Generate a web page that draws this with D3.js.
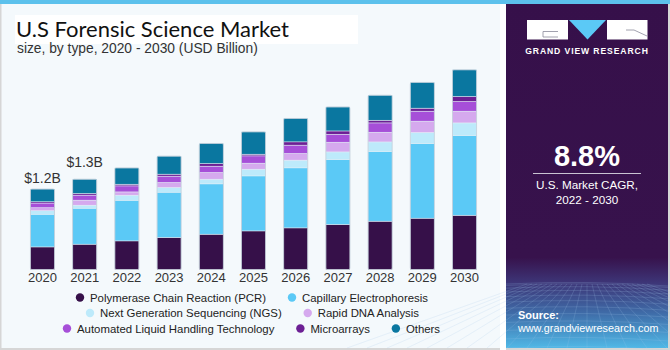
<!DOCTYPE html>
<html lang="en">
  <head>
    <meta charset="UTF-8" />
    <title>U.S Forensic Science Market</title>
    <script src="https://d3js.org/d3.v7.min.js"></script>
    <style>
      body { margin: 0; background: #fff; }
      text { font-family: "Liberation Sans", Arial, sans-serif; }
    </style>
  </head>
  <body>
    <script>
      let width = 670, height = 350;

      // data (USD billion)
      const years = ["2020","2021","2022","2023","2024","2025","2026","2027","2028","2029","2030"];
      const pcr       = [0.337,0.378,0.427,0.478,0.527,0.576,0.621,0.672,0.721,0.766,0.810];
      const capillary = [0.488,0.537,0.607,0.676,0.751,0.821,0.896,0.970,1.040,1.115,1.190];
      const ngs       = [0.052,0.045,0.075,0.070,0.070,0.100,0.115,0.113,0.143,0.164,0.188];
      const rapidDna  = [0.045,0.075,0.049,0.075,0.100,0.090,0.100,0.145,0.145,0.169,0.175];
      const automated = [0.070,0.075,0.090,0.094,0.094,0.109,0.124,0.119,0.139,0.149,0.145];
      const microarr  = [0.019,0.025,0.025,0.030,0.040,0.025,0.049,0.049,0.040,0.045,0.075];
      const others    = [0.190,0.213,0.243,0.269,0.299,0.333,0.349,0.358,0.373,0.384,0.397];

      const seriesNames = ["Polymerase Chain Reaction (PCR)","Capillary Electrophoresis",
        "Next Generation Sequencing (NGS)","Rapid DNA Analysis",
        "Automated Liquid Handling Technology","Microarrays","Others"];
      const seriesColors = ["#361049","#5bc9f6","#bdeafb","#d5a9ee","#a64fd8","#6c1f94","#0a77a0"];
      const valueLabels = [{year:"2020", text:"$1.2B", gap:6}, {year:"2021", text:"$1.3B", gap:12}];

      const cagr = "8.8%";

      const svg = d3.select("body").append("svg")
        .attr("width", width).attr("height", height);

      // backgrounds
      svg.append("rect").attr("width", width).attr("height", height).attr("fill", "#f4f9fc");
      svg.append("rect").attr("x", 0).attr("y", 0).attr("width", 1.5).attr("height", height).attr("fill", "#d6d6d6");
      svg.append("rect").attr("x", 0).attr("y", height - 2).attr("width", width).attr("height", 2).attr("fill", "#d6d6d6");
      svg.append("rect").attr("x", width - 2).attr("y", 0).attr("width", 2).attr("height", height).attr("fill", "#d6d6d6");
      svg.append("rect").attr("x", 500).attr("y", 0).attr("width", 6).attr("height", height).attr("fill", "#ffffff");

      // right panel
      const defs = svg.append("defs");
      const grad = defs.append("linearGradient").attr("id", "pg").attr("x1", 0).attr("y1", 0).attr("x2", 0).attr("y2", 1);
      grad.append("stop").attr("offset", "0%").attr("stop-color", "#36104a");
      grad.append("stop").attr("offset", "74%").attr("stop-color", "#37124c");
      grad.append("stop").attr("offset", "81%").attr("stop-color", "#3d3476");
      grad.append("stop").attr("offset", "90%").attr("stop-color", "#3f6ca8");
      grad.append("stop").attr("offset", "100%").attr("stop-color", "#50b8e6");
      svg.append("rect").attr("x", 506).attr("y", 0).attr("width", 162).attr("height", 348).attr("fill", "url(#pg)");

      // faint perspective grid at the bottom of the panel
      const grid = svg.append("g").attr("stroke", "#9fc6ec").attr("stroke-opacity", 0.28).attr("stroke-width", 0.7).attr("fill", "none");
      d3.range(0, 12).forEach(function (i) {
        const yy = 284 + Math.pow(i / 11, 1.6) * 64;
        grid.append("path").attr("d", "M506," + yy + " Q587," + (yy - 4) + " 668," + (yy + 2));
      });
      d3.range(-12, 13).forEach(function (i) {
        grid.append("line").attr("x1", 587 + i * 5).attr("y1", 284).attr("x2", 587 + i * 20).attr("y2", 348);
      });

      svg.append("rect").attr("x", 0).attr("y", 0).attr("width", width).attr("height", 4).attr("fill", "#5cc1ec");

      // logo
      const logo = svg.append("g");
      logo.append("rect").attr("x", 527).attr("y", 20).attr("width", 41).attr("height", 19.5).attr("fill", "#fff");
      logo.append("path").attr("d", "M543,31.5 H558 M543,31.5 V37 H558").attr("stroke", "#8a8a9a").attr("stroke-width", 0.8).attr("fill", "none");
      logo.append("path").attr("d", "M569,20 L606,20 L587.5,39.5 Z").attr("fill", "#5bc9f6");
      logo.append("rect").attr("x", 607).attr("y", 20).attr("width", 40.5).attr("height", 19.5).attr("fill", "#fff");
      logo.append("path").attr("d", "M634,30 L647,36 M634,30 H626").attr("stroke", "#8a8a9a").attr("stroke-width", 0.8).attr("fill", "none");
      svg.append("text").attr("x", 587).attr("y", 53.5).attr("text-anchor", "middle")
        .attr("fill", "#fff").style("font-size", "8.6px").style("font-weight", "bold").style("letter-spacing", "0.9px")
        .text("GRAND VIEW RESEARCH");

      svg.append("text").attr("x", 587).attr("y", 165.5).attr("text-anchor", "middle")
        .attr("fill", "#fff").style("font-size", "29px").style("font-weight", "bold").text(cagr);
      svg.append("line").attr("x1", 533).attr("x2", 641).attr("y1", 173.5).attr("y2", 173.5)
        .attr("stroke", "#c9c3d2").attr("stroke-width", 1);
      svg.append("text").attr("x", 587).attr("y", 189).attr("text-anchor", "middle")
        .attr("fill", "#fff").style("font-size", "11.7px").text("U.S. Market CAGR,");
      svg.append("text").attr("x", 587).attr("y", 204).attr("text-anchor", "middle")
        .attr("fill", "#fff").style("font-size", "11.7px").text("2022 - 2030");
      svg.append("text").attr("x", 518).attr("y", 318.5)
        .attr("fill", "#fff").style("font-size", "11px").style("font-weight", "bold").text("Source:");
      svg.append("text").attr("x", 518).attr("y", 331.5)
        .attr("fill", "#fff").style("font-size", "10.8px").text("www.grandviewresearch.com");

      // title
      svg.append("rect").attr("x", 15).attr("y", 15).attr("width", 343).attr("height", 29).attr("fill", "#fff");
      svg.append("text").attr("x", 16).attr("y", 37).attr("fill", "#111")
        .style("font-family", "Lato, sans-serif").style("font-size", "22px").text("U.S Forensic Science Market");
      svg.append("text").attr("x", 17).attr("y", 53).attr("fill", "#333")
        .style("font-size", "13.8px").text("size, by type, 2020 - 2030 (USD Billion)");

      // stacked bars
      const table = years.map(function (yr, i) {
        return { year: yr, s0: pcr[i], s1: capillary[i], s2: ngs[i], s3: rapidDna[i], s4: automated[i], s5: microarr[i], s6: others[i] };
      });
      const keys = ["s0","s1","s2","s3","s4","s5","s6"];
      const stack = d3.stack().keys(keys)(table);

      const x = d3.scaleBand().domain(years).range([22, 485]).paddingInner(0.43).paddingOuter(0.2);
      const y = d3.scaleLinear().domain([0, 3]).range([269.5, 68.5]);

      const layers = svg.selectAll(".layer").data(stack).enter().append("g")
        .attr("class", "layer").attr("fill", function (d, i) { return seriesColors[i]; });

      layers.selectAll("rect").data(function (d) { return d; }).enter().append("rect")
        .attr("x", function (d) { return x(d.data.year); })
        .attr("width", x.bandwidth())
        .attr("y", function (d) { return y(d[1]); })
        .attr("height", function (d) { return y(d[0]) - y(d[1]); })
        .attr("stroke", "#e3eef6").attr("stroke-width", 0.5);

      // bar outline
      svg.selectAll(".outline").data(table).enter().append("rect")
        .attr("x", function (d) { return x(d.year); })
        .attr("width", x.bandwidth())
        .attr("y", function (d) { return y(d3.sum(keys, function (k) { return d[k]; })); })
        .attr("height", function (d) { return y(0) - y(d3.sum(keys, function (k) { return d[k]; })); })
        .attr("rx", 1.5).attr("fill", "none").attr("stroke", "#b8c4d0").attr("stroke-width", 0.6);

      // x axis labels
      const xAxis = svg.append("g").attr("transform", "translate(0,270)")
        .call(d3.axisBottom(x).tickSize(0).tickPadding(3));
      xAxis.select(".domain").remove();
      xAxis.selectAll("text").attr("fill", "#333").style("font-size", "13px").style("font-family", "Liberation Sans, Arial, sans-serif");

      // value labels
      svg.selectAll(".vlabel").data(valueLabels).enter().append("text")
        .attr("x", function (d) { return x(d.year) + x.bandwidth() / 2; })
        .attr("y", function (d) {
          const row = table[years.indexOf(d.year)];
          return y(d3.sum(keys, function (k) { return row[k]; })) - d.gap;
        })
        .attr("text-anchor", "middle").attr("fill", "#333").style("font-size", "14px")
        .text(function (d) { return d.text; });

      // legend
      const legendRows = [[0, 1], [2, 3], [4, 5, 6]];
      const legendStart = [80, 90, 67];
      const legendY = [297.5, 313, 328.5];
      const legend = svg.append("g");
      legendRows.forEach(function (row, r) {
        let cx = legendStart[r];
        row.forEach(function (si) {
          legend.append("circle").attr("cx", cx).attr("cy", legendY[r]).attr("r", 4.2).attr("fill", seriesColors[si]);
          const t = legend.append("text").attr("x", cx + 10).attr("y", legendY[r] + 4.1)
            .attr("fill", "#222").style("font-size", "11.4px").text(seriesNames[si]);
          cx += 10 + t.node().getComputedTextLength() + 26;
        });
      });
    </script>
  </body>
</html>
